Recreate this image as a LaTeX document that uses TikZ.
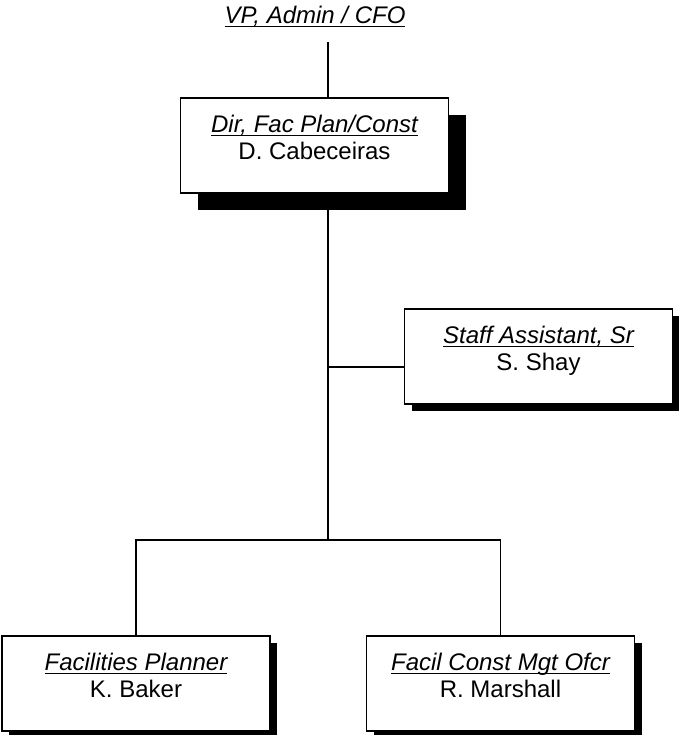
\documentclass[tikz,border=0pt]{standalone}
\usepackage{fontspec}
\setmainfont{Liberation Sans}
\usetikzlibrary{shadows}
\newcommand\ulx[1]{\leavevmode\setbox0\hbox{#1}\rlap{\rule[-3.5pt]{\wd0}{1.6pt}}\box0}
\newcommand\boxtext[2]{\parbox[c][95pt][t]{268pt}{\centering\vspace*{17.5pt}\ulx{\itshape #1}\\[0pt]#2}}
\tikzset{
  orgbox/.style={draw=black, line width=1.8pt, fill=white, inner sep=0pt,
     minimum width=268pt, minimum height=95pt, font=\fontsize{24}{27}\selectfont},
  bigshadow/.style={drop shadow={shadow xshift=17pt, shadow yshift=-17pt, opacity=1, fill=black}},
  smallshadow/.style={drop shadow={shadow xshift=7pt, shadow yshift=-7pt, opacity=1, fill=black}},
  conn/.style={line width=1.8pt, draw=black}
}
\begin{document}
\begin{tikzpicture}[x=1pt,y=-1pt]
\useasboundingbox (0,0) rectangle (678,735);
\node[font=\fontsize{24}{27}\selectfont, inner sep=0pt] (vp) at (315,17) {\ulx{\itshape VP, Admin / CFO}};
\coordinate (vpline) at (328,42);
\coordinate (js) at (328,367);
\coordinate (jb) at (328,540);
% main trunk behind boxes
\draw[conn] (vpline) -- (jb);
\node[orgbox, bigshadow] (dir) at (314.5,145.5) {\boxtext{Dir, Fac Plan/Const}{D. Cabeceiras}};
\node[orgbox, smallshadow] (staff) at (538.5,356.5) {\boxtext{Staff Assistant, Sr}{S. Shay}};
\node[orgbox, smallshadow] (fp) at (136,683.5) {\boxtext{Facilities Planner}{K. Baker}};
\node[orgbox, smallshadow] (fc) at (500.5,683.5) {\boxtext{Facil Const Mgt Ofcr}{R. Marshall}};
\draw[conn] (js) -- (staff.west |- js);
\draw[conn] (fp.north) -- (fp.north |- jb) -- (fc.north |- jb) -- (fc.north);
\end{tikzpicture}
\end{document}
